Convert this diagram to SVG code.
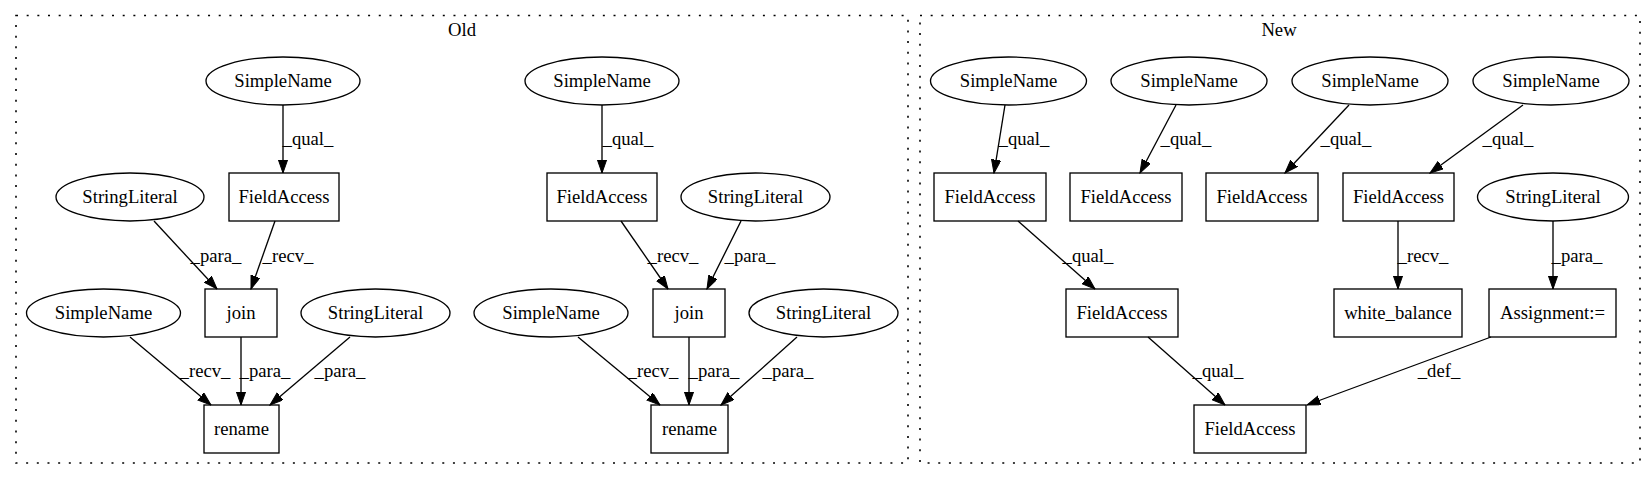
<svg xmlns="http://www.w3.org/2000/svg" width="1648" height="480" viewBox="0 0 1648 480" font-family="'Liberation Serif', 'DejaVu Serif', serif">
<style>
text{font-family:"Liberation Serif","DejaVu Serif",serif;font-size:18.67px;fill:#000;text-anchor:middle}
.n ellipse,.n rect{fill:none;stroke:#000;stroke-width:1.33}
.e line{stroke:#000;stroke-width:1.33;marker-end:url(#ah)}
.cl{fill:none;stroke:#000;stroke-width:1.6;stroke-dasharray:2,8.67}
</style>
<defs>
<marker id="ah" markerUnits="userSpaceOnUse" markerWidth="14" markerHeight="10" refX="13.3" refY="4.67" orient="auto">
<path d="M0,0 L13.3,4.67 L0,9.33 z" fill="#000" stroke="#000" stroke-width="1"/>
</marker>
</defs>
<rect width="1648" height="480" fill="#fff"/>
<g id="cluster_old"><rect class="cl" x="16" y="15.5" width="892" height="447.5"/><text x="462" y="36">Old</text></g>
<g id="cluster_new"><rect class="cl" x="920" y="15.5" width="720" height="447.5"/><text x="1279" y="36">New</text></g>

<g class="e" id="edges">
<line x1="283" y1="105" x2="283" y2="173"/>
<line x1="154" y1="221" x2="217" y2="289"/>
<line x1="275" y1="221" x2="251" y2="289"/>
<line x1="130" y1="337" x2="211" y2="405"/>
<line x1="241" y1="337" x2="241" y2="405"/>
<line x1="350" y1="337" x2="270" y2="405"/>
<line x1="602" y1="105" x2="602" y2="173"/>
<line x1="621" y1="221" x2="668" y2="289"/>
<line x1="741" y1="221" x2="707" y2="289"/>
<line x1="578" y1="337" x2="660" y2="405"/>
<line x1="689" y1="337" x2="689" y2="405"/>
<line x1="797" y1="337" x2="721" y2="405"/>
<line x1="1005" y1="105" x2="994" y2="173"/>
<line x1="1176" y1="105" x2="1140" y2="173"/>
<line x1="1349" y1="105" x2="1285" y2="173"/>
<line x1="1523" y1="105" x2="1430" y2="173"/>
<line x1="1018" y1="221" x2="1095" y2="289"/>
<line x1="1398" y1="221" x2="1398" y2="289"/>
<line x1="1553" y1="221" x2="1553" y2="289"/>
<line x1="1148" y1="337" x2="1225" y2="405"/>
<line x1="1491" y1="337" x2="1307" y2="405"/>
</g>
<g id="edge_labels">
<text x="308" y="145">_qual_</text>
<text x="216" y="262">_para_</text>
<text x="288" y="262">_recv_</text>
<text x="205" y="377">_recv_</text>
<text x="265" y="377">_para_</text>
<text x="340" y="377">_para_</text>
<text x="628" y="145">_qual_</text>
<text x="673" y="262">_recv_</text>
<text x="750" y="262">_para_</text>
<text x="653" y="377">_recv_</text>
<text x="714" y="377">_para_</text>
<text x="788" y="377">_para_</text>
<text x="1024" y="145">_qual_</text>
<text x="1186" y="145">_qual_</text>
<text x="1346" y="145">_qual_</text>
<text x="1508" y="145">_qual_</text>
<text x="1088" y="262">_qual_</text>
<text x="1423" y="262">_recv_</text>
<text x="1577" y="262">_para_</text>
<text x="1218" y="377">_qual_</text>
<text x="1439" y="377">_def_</text>
</g>

<g class="n" id="o_sn1"><ellipse cx="283" cy="81" rx="77" ry="24"/><text x="283" y="87">SimpleName</text></g>
<g class="n" id="o_fa1"><rect x="229" y="173" width="110" height="48"/><text x="284" y="203">FieldAccess</text></g>
<g class="n" id="o_sl1"><ellipse cx="130" cy="197" rx="74" ry="24"/><text x="130" y="203">StringLiteral</text></g>
<g class="n" id="o_join1"><rect x="205" y="289" width="72" height="48"/><text x="241" y="319">join</text></g>
<g class="n" id="o_sn2"><ellipse cx="103.5" cy="313" rx="77" ry="24"/><text x="103.5" y="319">SimpleName</text></g>
<g class="n" id="o_sl2"><ellipse cx="375.5" cy="313" rx="74.5" ry="24"/><text x="375.5" y="319">StringLiteral</text></g>
<g class="n" id="o_rename1"><rect x="204" y="405" width="75" height="48"/><text x="241.5" y="435">rename</text></g>

<g class="n" id="o_sn3"><ellipse cx="602" cy="81" rx="77" ry="24"/><text x="602" y="87">SimpleName</text></g>
<g class="n" id="o_fa2"><rect x="547" y="173" width="110" height="48"/><text x="602" y="203">FieldAccess</text></g>
<g class="n" id="o_sl3"><ellipse cx="755.5" cy="197" rx="74.5" ry="24"/><text x="755.5" y="203">StringLiteral</text></g>
<g class="n" id="o_join2"><rect x="653" y="289" width="72" height="48"/><text x="689" y="319">join</text></g>
<g class="n" id="o_sn4"><ellipse cx="551" cy="313" rx="77" ry="24"/><text x="551" y="319">SimpleName</text></g>
<g class="n" id="o_sl4"><ellipse cx="823.5" cy="313" rx="74.5" ry="24"/><text x="823.5" y="319">StringLiteral</text></g>
<g class="n" id="o_rename2"><rect x="651" y="405" width="77" height="48"/><text x="689.5" y="435">rename</text></g>

<g class="n" id="n_sn1"><ellipse cx="1008.5" cy="81" rx="78" ry="24"/><text x="1008.5" y="87">SimpleName</text></g>
<g class="n" id="n_sn2"><ellipse cx="1189" cy="81" rx="78" ry="24"/><text x="1189" y="87">SimpleName</text></g>
<g class="n" id="n_sn3"><ellipse cx="1370" cy="81" rx="78" ry="24"/><text x="1370" y="87">SimpleName</text></g>
<g class="n" id="n_sn4"><ellipse cx="1551" cy="81" rx="78" ry="24"/><text x="1551" y="87">SimpleName</text></g>
<g class="n" id="n_fa1"><rect x="934" y="173" width="112" height="48"/><text x="990" y="203">FieldAccess</text></g>
<g class="n" id="n_fa2"><rect x="1070" y="173" width="112" height="48"/><text x="1126" y="203">FieldAccess</text></g>
<g class="n" id="n_fa3"><rect x="1206" y="173" width="112" height="48"/><text x="1262" y="203">FieldAccess</text></g>
<g class="n" id="n_fa4"><rect x="1343" y="173" width="111" height="48"/><text x="1398.5" y="203">FieldAccess</text></g>
<g class="n" id="n_sl"><ellipse cx="1553" cy="197" rx="75.5" ry="24"/><text x="1553" y="203">StringLiteral</text></g>
<g class="n" id="n_fa5"><rect x="1066" y="289" width="112" height="48"/><text x="1122" y="319">FieldAccess</text></g>
<g class="n" id="n_wb"><rect x="1334" y="289" width="128" height="48"/><text x="1398" y="319">white_balance</text></g>
<g class="n" id="n_assign"><rect x="1489" y="289" width="127" height="48"/><text x="1552.5" y="319">Assignment:=</text></g>
<g class="n" id="n_fa6"><rect x="1194" y="405" width="112" height="48"/><text x="1250" y="435">FieldAccess</text></g>
</svg>
